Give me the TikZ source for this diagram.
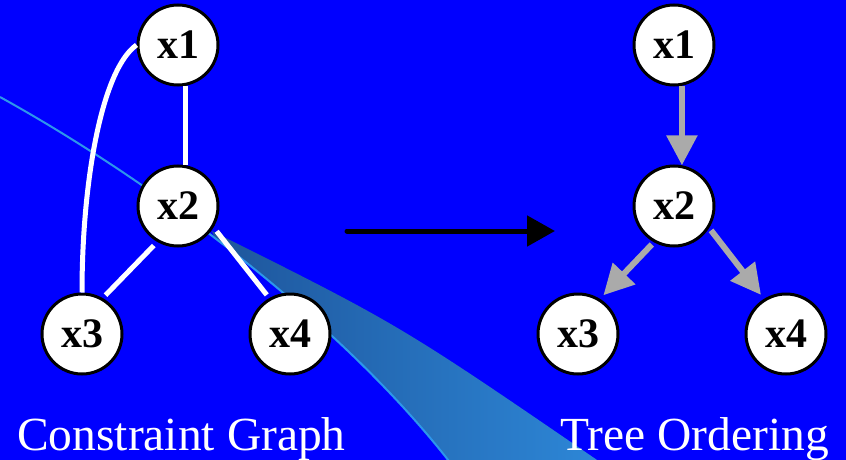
\documentclass[tikz,border=0pt]{standalone}
\usepackage{fontspec}
\setmainfont{Liberation Serif}
\usetikzlibrary{positioning, arrows.meta, calc}

\definecolor{slideblue}{RGB}{0,0,255}
\definecolor{beamline}{RGB}{45,150,235}
\definecolor{beamdark}{RGB}{30,85,155}
\definecolor{beamlight}{RGB}{45,135,215}
\definecolor{arrowgray}{RGB}{170,170,170}

\begin{document}
\begin{tikzpicture}[x=1pt, y=-1pt, node distance=128pt, on grid,
    var/.style={circle, draw=black, line width=3pt, fill=white, minimum size=80pt,
      inner sep=0pt, font=\fontsize{42}{42}\selectfont\bfseries},
    cons/.style={draw=white, line width=5pt},
    ord/.style={draw=arrowgray, line width=6pt, -{Triangle[length=30pt, width=30pt]}},
    caption/.style={text=white, anchor=base west, inner sep=0pt,
      font=\fontsize{47.5}{50}\selectfont}]
  \useasboundingbox (0,0) rectangle (846,460);
  % slide background
  \fill[slideblue] (0,0) rectangle (846,460);
  % light beam
  \begin{scope}
    \clip (0,97) .. controls (150,180) and (340,320) .. (452,465)
      -- (846,465) -- (846,0) -- (0,0) -- cycle;
    \shade[left color=beamdark, right color=beamlight]
      (212,231) .. controls (400,325) .. (600,462) -- (300,470) -- cycle;
  \end{scope}
  \draw[beamline, line width=2pt] (0,97) .. controls (150,180) and (340,320) .. (452,465);

  % constraint graph
  \node[var] (c2) at (178,206) {x2};
  \node[var] (c1) [above=161pt of c2] {x1};
  \node[var] (c3) [below left=128pt and 96pt of c2] {x3};
  \node[var] (c4) [below right=128pt and 112pt of c2] {x4};
  \draw[cons] (c1.-80) -- (c2.80);
  \draw[cons, shorten <=5pt, shorten >=4pt] (c2.240) -- (c3.60);
  \draw[cons, shorten <=5pt, shorten >=4pt] (c2.-31) -- (c4.120);
  \draw[cons] (c1.west) .. controls +(-35,25) and +(0,-110) .. (c3.north);

  % tree ordering
  \node[var] (t2) at (674,206) {x2};
  \node[var] (t1) [above=161pt of t2] {x1};
  \node[var] (t3) [below left=128pt and 96pt of t2] {x3};
  \node[var] (t4) [below right=128pt and 112pt of t2] {x4};
  \draw[ord] (t1.-79) -- (t2.79);
  \draw[ord, shorten <=3pt, shorten >=5pt] (t2.241) -- (t3.58);
  \draw[ord, shorten <=3pt, shorten >=5pt] (t2.-32) -- (t4.122);

  % graph -> tree
  \coordinate (from) at (347,231);
  \coordinate (into) at (555,231);
  \draw[line width=5pt, line cap=round, -{Triangle[length=28pt, width=30pt]}] (from) -- (into);

  \node[caption] (cglabel) at (17,450) {Constraint Graph};
  \node[caption] (tolabel) at (560,450) {Tree Ordering};
\end{tikzpicture}
\end{document}
